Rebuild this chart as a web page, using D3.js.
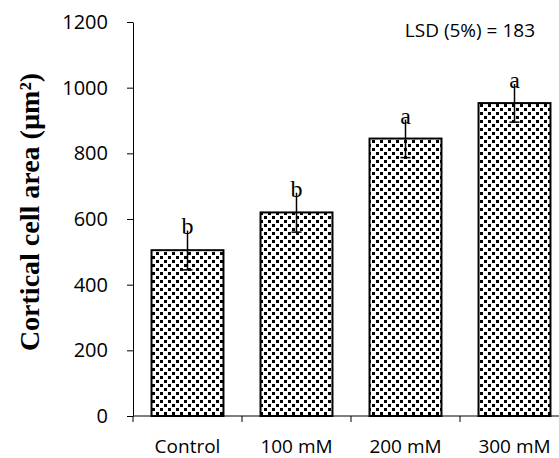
<!DOCTYPE html>
<html>
<head>
<meta charset="utf-8">
<script src="https://cdn.jsdelivr.net/npm/d3@7"></script>
<style>
  body { margin: 0; background: #fff; }
  svg { display: block; }
</style>
</head>
<body>
<div id="chart"></div>
<script>
const categories = ["Control", "100 mM", "200 mM", "300 mM"];
const cellArea = [505, 620, 845, 953];
const errors = [60, 60, 58, 58];
const groupLetters = ["b", "b", "a", "a"];
const yTicks = [0, 200, 400, 600, 800, 1000, 1200];

const width = 559;
const height = 458;

const svg = d3.select("#chart")
    .append("svg")
    .attr("width", width)
    .attr("height", height);

// dotted fill like the office pattern
const pattern = svg.append("defs").append("pattern")
    .attr("id", "dots")
    .attr("patternUnits", "userSpaceOnUse")
    .attr("width", 8)
    .attr("height", 8);
pattern.append("rect").attr("width", 8).attr("height", 8).attr("fill", "#fff");
pattern.append("rect").attr("x", 0).attr("y", 0).attr("width", 3).attr("height", 3).attr("fill", "#000");
pattern.append("rect").attr("x", 4).attr("y", 4).attr("width", 3).attr("height", 3).attr("fill", "#000");

const x = d3.scaleBand()
    .domain(categories)
    .range([133, 569])
    .paddingInner(0.34)
    .paddingOuter(0.17);

const y = d3.scaleLinear()
    .domain([0, 1200])
    .range([416, 22]);

// y axis
const yAxis = svg.append("g")
    .attr("transform", "translate(133,0)")
    .call(d3.axisLeft(y).tickValues(yTicks).tickFormat(d3.format("d"))
        .tickSize(6).tickSizeOuter(0).tickPadding(19));
yAxis.attr("font-size", 20).attr("font-family", "'Open Sans', sans-serif");
yAxis.selectAll("text").attr("fill", "#000");
yAxis.select(".domain").attr("stroke", "#000");

// x axis, ticks between the categories
const xAxis = svg.append("g")
    .attr("transform", "translate(0,416)");
xAxis.append("line")
    .attr("x1", 133).attr("x2", 569)
    .attr("stroke", "#000");
const boundaries = categories.map(c => x(c) - x.step() * x.paddingInner() / 2);
xAxis.selectAll(".xtick")
    .data(boundaries)
    .enter().append("line")
    .attr("class", "xtick")
    .attr("x1", d => d).attr("x2", d => d)
    .attr("y1", 0).attr("y2", 6)
    .attr("stroke", "#000");
xAxis.selectAll(".xlabel")
    .data(categories)
    .enter().append("text")
    .attr("class", "xlabel")
    .attr("x", d => x(d) + x.bandwidth() / 2)
    .attr("y", 37)
    .attr("text-anchor", "middle")
    .attr("font-family", "'Open Sans', sans-serif")
    .attr("font-size", 19)
    .text(d => d);

// bars
svg.selectAll(".bar")
    .data(categories)
    .enter().append("rect")
    .attr("class", "bar")
    .attr("x", d => x(d))
    .attr("y", (d, i) => y(cellArea[i]))
    .attr("width", x.bandwidth())
    .attr("height", (d, i) => y(0) - y(cellArea[i]))
    .attr("fill", "url(#dots)")
    .attr("stroke", "#000")
    .attr("stroke-width", 2);

// error bars
const err = svg.selectAll(".err")
    .data(categories)
    .enter().append("g")
    .attr("class", "err");
err.append("line")
    .attr("x1", d => x(d) + x.bandwidth() / 2)
    .attr("x2", d => x(d) + x.bandwidth() / 2)
    .attr("y1", (d, i) => y(cellArea[i] - errors[i]))
    .attr("y2", (d, i) => y(cellArea[i] + errors[i]))
    .attr("stroke", "#000")
    .attr("stroke-width", 1.5);
err.append("line")
    .attr("x1", d => x(d) + x.bandwidth() / 2 - 5)
    .attr("x2", d => x(d) + x.bandwidth() / 2 + 5)
    .attr("y1", (d, i) => y(cellArea[i] - errors[i]))
    .attr("y2", (d, i) => y(cellArea[i] - errors[i]))
    .attr("stroke", "#000")
    .attr("stroke-width", 1.5);

// significance letters
svg.selectAll(".letter")
    .data(categories)
    .enter().append("text")
    .attr("class", "letter")
    .attr("x", d => x(d) + x.bandwidth() / 2)
    .attr("y", (d, i) => y(cellArea[i] + errors[i]) + 4)
    .attr("text-anchor", "middle")
    .attr("font-family", "'Liberation Serif', serif")
    .attr("font-size", 24)
    .text((d, i) => groupLetters[i]);

svg.append("text")
    .attr("x", 535)
    .attr("y", 37)
    .attr("text-anchor", "end")
    .attr("font-family", "'Open Sans', sans-serif")
    .attr("font-size", 19)
    .text("LSD (5%) = 183");

// y title
svg.append("text")
    .attr("transform", "translate(39,212) rotate(-90)")
    .attr("text-anchor", "middle")
    .attr("font-family", "'Liberation Serif', serif")
    .attr("font-weight", "bold")
    .attr("font-size", 28)
    .text("Cortical cell area (µm²)");
</script>
</body>
</html>
